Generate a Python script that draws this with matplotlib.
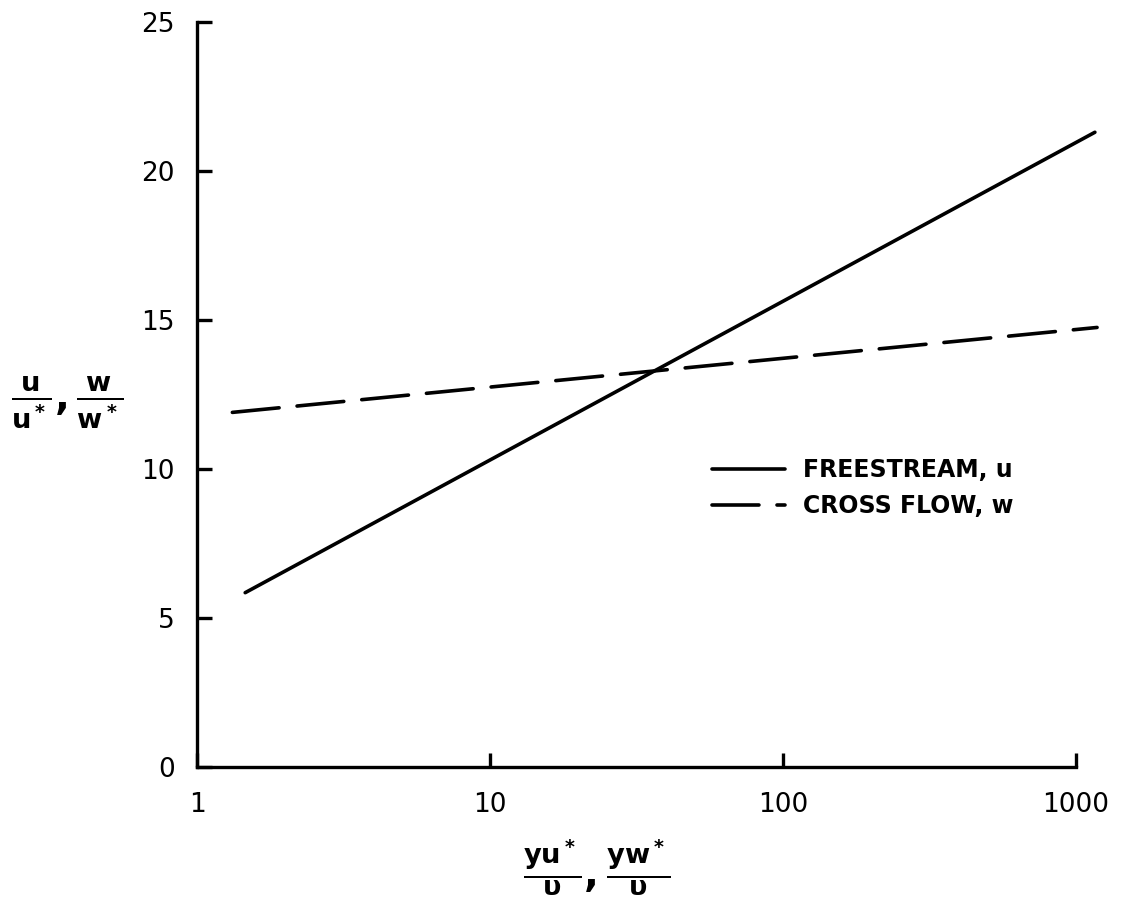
import numpy as np
import matplotlib
matplotlib.use('Agg')
import matplotlib.pyplot as plt

# 速度剖面：自由流 u 与横流 w（对数坐标）
plt.rcParams['font.family'] = ['DejaVu Sans']
plt.rcParams['mathtext.fontset'] = 'custom'
plt.rcParams['mathtext.rm'] = 'DejaVu Sans:bold'
plt.rcParams['mathtext.it'] = 'DejaVu Sans:bold'
plt.rcParams['mathtext.bf'] = 'DejaVu Sans:bold'
plt.rcParams['mathtext.default'] = 'rm'

# 数据（端点读数）
freestream_x = [1.46, 1160]
freestream_y = [5.85, 21.3]
crossflow_x = [1.32, 1180]
crossflow_y = [11.9, 14.75]

xticks = [1, 10, 100, 1000]
xticklabels = ['1', '10', '100', '1000']
yticks = [0, 5, 10, 15, 20, 25]

fig = plt.figure(figsize=(11.24, 9.13), dpi=100)
ax = fig.add_axes([0.1753, 0.1599, 0.782, 0.816])

ax.plot(freestream_x, freestream_y, color='black', lw=2.6, clip_on=False,
        solid_capstyle='round', label='FREESTREAM, u')
ax.plot(crossflow_x, crossflow_y, color='black', lw=2.6, clip_on=False,
        dashes=(13, 5), dash_capstyle='round', label='CROSS FLOW, w')

ax.set_xscale('log')
ax.set_xlim(1, 1000)
ax.set_ylim(0, 25)
ax.set_xticks(xticks)
ax.set_xticklabels(xticklabels)
ax.minorticks_off()
ax.set_yticks(yticks)

for s in ['top', 'right']:
    ax.spines[s].set_visible(False)
for s in ['left', 'bottom']:
    ax.spines[s].set_linewidth(2.4)

ax.tick_params(axis='both', direction='in', width=2.4, labelsize=19)
ax.tick_params(axis='y', length=11, pad=16)
ax.tick_params(axis='x', length=10, pad=18)

ax.set_xlabel(r'$\frac{yu^*}{\upsilon}, \frac{yw^*}{\upsilon}$', fontsize=28)
ax.xaxis.set_label_coords(0.455, -0.095)
ax.set_ylabel(r'$\frac{u}{u^*}, \frac{w}{w^*}$', fontsize=28, rotation=0,
              ha='left', va='center')
ax.yaxis.set_label_coords(-0.212, 0.49)

leg = ax.legend(loc='center left', bbox_to_anchor=(0.586, 0.3745), frameon=False,
                borderpad=0, borderaxespad=0,
                handlelength=3.1, handletextpad=0.75, labelspacing=0.5,
                prop={'size': 17, 'weight': 'bold'})

fig.savefig('out.png', dpi=100)
